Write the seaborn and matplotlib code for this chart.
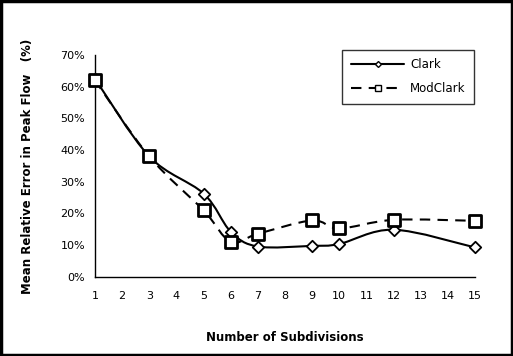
import matplotlib
matplotlib.use("Agg")
import matplotlib.pyplot as plt
import pandas as pd
import seaborn as sns
from matplotlib.lines import Line2D
from matplotlib.path import Path
from matplotlib.patches import PathPatch, Rectangle
from matplotlib.ticker import PercentFormatter

subdivisions = [1, 3, 5, 6, 7, 9, 10, 12, 15]
clark = [62.5, 38.0, 26.3, 14.3, 9.6, 9.8, 10.4, 14.9, 9.3]
modclark = [62.0, 38.0, 21.0, 11.1, 13.6, 17.8, 15.3, 18.0, 17.7]

df = pd.DataFrame({"x": subdivisions, "Clark": clark, "ModClark": modclark})


def smooth_path(xs, ys):
    # Excel-like smoothed line: cubic Bezier segments through the points
    pts = list(zip(xs, ys))
    verts = [pts[0]]
    codes = [Path.MOVETO]
    n = len(pts)
    for i in range(n - 1):
        p0 = pts[i - 1] if i > 0 else pts[i]
        p1 = pts[i]
        p2 = pts[i + 1]
        p3 = pts[i + 2] if i + 2 < n else pts[i + 1]
        c1 = (p1[0] + (p2[0] - p0[0]) / 6, p1[1] + (p2[1] - p0[1]) / 6)
        c2 = (p2[0] - (p3[0] - p1[0]) / 6, p2[1] - (p3[1] - p1[1]) / 6)
        verts += [c1, c2, p2]
        codes += [Path.CURVE4] * 3
    return Path(verts, codes)


sns.set_style("white")
plt.rcParams["font.family"] = ["DejaVu Sans"]
plt.rcParams["text.color"] = "black"
plt.rcParams["axes.labelcolor"] = "black"
plt.rcParams["xtick.color"] = "black"
plt.rcParams["ytick.color"] = "black"

fig = plt.figure(figsize=(5.13, 3.56), dpi=100)
ax = fig.add_axes([0.185, 0.222, 0.741, 0.624])

dash = (0, (5, 3.5))
ax.add_patch(PathPatch(smooth_path(df["x"], df["Clark"]), fill=False,
                       edgecolor="black", linewidth=1.5, zorder=2))
ax.add_patch(PathPatch(smooth_path(df["x"], df["ModClark"]), fill=False,
                       edgecolor="black", linewidth=1.5, linestyle=dash,
                       zorder=2))

sns.scatterplot(data=df, x="x", y="Clark", marker="D", s=34, color="white",
                edgecolor="black", linewidth=1.3, ax=ax, zorder=3,
                clip_on=False)
sns.scatterplot(data=df, x="x", y="ModClark", marker="s", s=66, color="white",
                edgecolor="black", linewidth=2.0, ax=ax, zorder=4,
                clip_on=False)

ax.set_xlim(1, 15)
ax.set_ylim(0, 70)
ax.set_xticks(range(1, 16))
ax.set_yticks(range(0, 71, 10))
ax.yaxis.set_major_formatter(PercentFormatter(decimals=0))
ax.tick_params(axis="both", direction="out", length=4, width=1, color="black",
               labelcolor="black", labelsize=8, pad=3)
ax.tick_params(axis="x", pad=6)
for side in ["top", "right"]:
    ax.spines[side].set_visible(False)
for side in ["left", "bottom"]:
    ax.spines[side].set_color("black")
    ax.spines[side].set_linewidth(1)

ax.set_xlabel("Number of Subdivisions", fontsize=8.5, fontweight="bold",
              labelpad=22)
ax.set_ylabel("Mean Relative Error in Peak Flow   (%)", fontsize=8.5,
              fontweight="bold", labelpad=19)

handles = [
    Line2D([0], [0], color="black", lw=1.5, marker="D", markersize=3,
           markerfacecolor="white", markeredgecolor="black"),
    Line2D([0], [0], color="black", lw=1.5, linestyle=dash, marker="s",
           markersize=5, markerfacecolor="white", markeredgecolor="black"),
]
leg = ax.legend(handles, ["Clark", "ModClark"], loc="upper left",
                bbox_to_anchor=(0.635, 1.05), frameon=True, fancybox=False,
                fontsize=8.5, handlelength=4.5, borderpad=0.75,
                labelspacing=0.9, handletextpad=0.5)
leg.get_frame().set_edgecolor("black")
leg.get_frame().set_linewidth(1)

fig.patches.append(Rectangle((0.002, 0.003), 0.996, 0.994,
                             transform=fig.transFigure, fill=False,
                             edgecolor="black", linewidth=2.5))

fig.savefig("out.png", dpi=100)
